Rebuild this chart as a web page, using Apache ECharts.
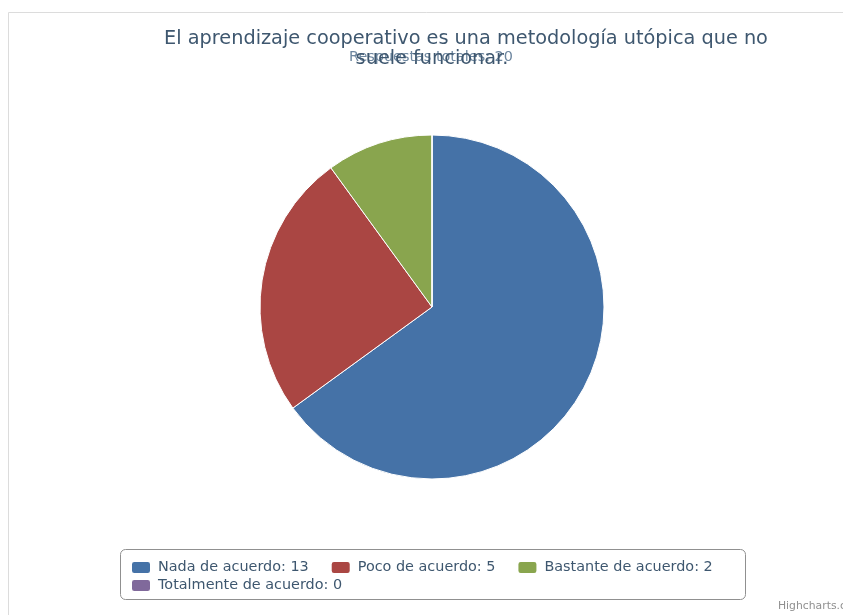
<!DOCTYPE html>
<html>
<head>
<meta charset="utf-8">
<script src="https://cdn.jsdelivr.net/npm/echarts@6/dist/echarts.min.js"></script>
<style>
  html, body { margin: 0; padding: 0; background: #ffffff; }
  #chart { width: 843px; height: 615px; }
</style>
</head>
<body>
<div id="chart"></div>
<script>
// Survey answers
const categories = ['Nada de acuerdo', 'Poco de acuerdo', 'Bastante de acuerdo', 'Totalmente de acuerdo'];
const counts = [13, 5, 2, 0];
const colors = ['#4572A7', '#AA4643', '#89A54E', '#80699B'];
const titleLines = ['El aprendizaje cooperativo es una metodología utópica que no', 'suele funcionar.'];
const totalLabel = 'Respuestas totales: ' + counts.reduce((a, b) => a + b, 0);

const FONT = 'DejaVu Sans';
const chart = echarts.init(document.getElementById('chart'), null, { renderer: 'canvas' });

const pieData = categories.map((name, i) => ({
  name: name,
  value: counts[i],
  itemStyle: { color: colors[i] }
}));
const valueOf = {};
categories.forEach((c, i) => { valueOf[c] = counts[i]; });

const legendCommon = {
  orient: 'horizontal',
  icon: 'roundRect',
  itemWidth: 20,
  itemHeight: 13,
  itemGap: 21,
  padding: 0,
  selectedMode: false,
  formatter: name => name + ': ' + valueOf[name],
  textStyle: { fontFamily: FONT, fontSize: 14.4, color: '#3E576F', padding: [0, 0, 0, 2] }
};

chart.setOption({
  animation: false,
  backgroundColor: '#ffffff',
  title: [
    {
      text: titleLines[0], left: 466, top: 29, textAlign: 'center', padding: 0,
      textStyle: { fontFamily: FONT, fontSize: 19.3, fontWeight: 'normal', color: '#3E576F' }
    },
    {
      text: totalLabel, left: 431, top: 50, textAlign: 'center', padding: 0,
      textStyle: { fontFamily: FONT, fontSize: 14.4, fontWeight: 'normal', color: '#6D869F' }
    },
    {
      text: titleLines[1], left: 432, top: 49, textAlign: 'center', padding: 0,
      textStyle: { fontFamily: FONT, fontSize: 19.3, fontWeight: 'normal', color: '#3E576F' }
    }
  ],
  legend: [
    Object.assign({}, legendCommon, { left: 130, top: 560, data: categories.slice(0, 3) }),
    Object.assign({}, legendCommon, { left: 130, top: 578, data: categories.slice(3) })
  ],
  graphic: [
    {
      type: 'rect', silent: true, z: -10,
      shape: { x: 8.5, y: 12.5, width: 900, height: 700 },
      style: { fill: '#ffffff', stroke: '#dcdcdc', lineWidth: 1 }
    },
    {
      type: 'rect', silent: true, z: -5,
      shape: { x: 120.5, y: 549.5, width: 625, height: 50, r: 5 },
      style: { fill: 'none', stroke: '#909090', lineWidth: 1 }
    },
    {
      type: 'text', silent: true,
      left: 778, top: 601,
      style: { text: 'Highcharts.com', fontFamily: FONT, fontSize: 10.8, fill: '#909090' }
    }
  ],
  series: [{
    type: 'pie',
    center: [432, 307],
    radius: 172,
    startAngle: 90,
    clockwise: true,
    minAngle: 0,
    avoidLabelOverlap: false,
    label: { show: false },
    labelLine: { show: false },
    emphasis: { disabled: true },
    itemStyle: { borderColor: '#ffffff', borderWidth: 1 },
    data: pieData
  }]
});
</script>
</body>
</html>
